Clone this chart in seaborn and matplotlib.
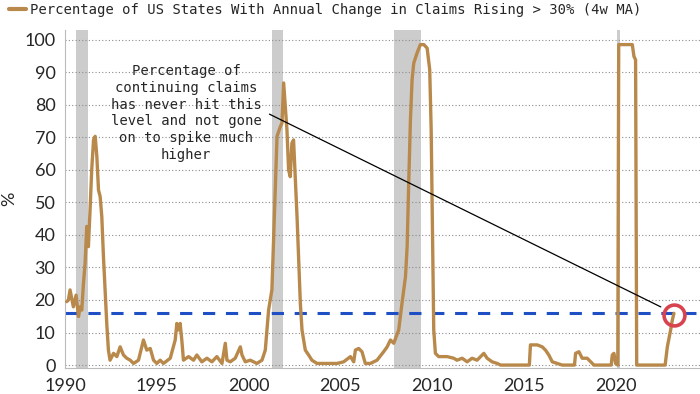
import pandas as pd
import matplotlib.pyplot as plt
import seaborn as sn

# Series (decimal year, % of states)
years = [1990.09, 1990.18, 1990.27, 1990.45, 1990.60, 1990.73, 1990.82, 1990.91, 1991.00, 1991.09,
         1991.18, 1991.27, 1991.36, 1991.45, 1991.55, 1991.64, 1991.73, 1991.82, 1991.91, 1992.00,
         1992.09, 1992.18, 1992.27, 1992.36, 1992.45, 1992.64, 1992.82, 1993.00, 1993.18, 1993.36,
         1993.55, 1993.73, 1994.00, 1994.27, 1994.45, 1994.64, 1994.82, 1995.00, 1995.18, 1995.36,
         1995.73, 1996.00, 1996.09, 1996.18, 1996.27, 1996.36, 1996.45, 1996.73, 1997.00, 1997.18,
         1997.45, 1997.73, 1998.00, 1998.27, 1998.55, 1998.73, 1998.82, 1999.00, 1999.27, 1999.55,
         1999.64, 1999.82, 2000.09, 2000.45, 2000.73, 2000.91, 2001.09, 2001.27, 2001.45, 2001.55,
         2001.73, 2001.82, 2001.91, 2002.00, 2002.09, 2002.18, 2002.27, 2002.36, 2002.45, 2002.64,
         2002.82, 2002.91, 2003.09, 2003.27, 2003.45, 2003.73, 2004.27, 2004.82, 2005.18, 2005.55,
         2005.73, 2005.82, 2006.00, 2006.18, 2006.36, 2006.64, 2007.00, 2007.36, 2007.55, 2007.73,
         2007.91, 2008.18, 2008.36, 2008.55, 2008.64, 2008.73, 2008.82, 2008.91, 2009.00, 2009.18,
         2009.36, 2009.55, 2009.73, 2009.87, 2009.95, 2010.02, 2010.09, 2010.18, 2010.36, 2010.82,
         2011.18, 2011.36, 2011.64, 2011.91, 2012.18, 2012.45, 2012.82, 2013.00, 2013.27, 2013.55,
         2013.73, 2014.64, 2015.30, 2015.36, 2015.73, 2016.00, 2016.18, 2016.36, 2016.55, 2016.82,
         2017.09, 2017.76, 2017.82, 2018.00, 2018.18, 2018.45, 2018.73, 2018.82, 2019.76, 2019.82,
         2019.91, 2020.00, 2020.12, 2020.17, 2020.91, 2021.00, 2021.09, 2021.15, 2022.70, 2022.82,
         2023.00, 2023.09, 2023.18]
pct = [19.5, 20.0, 23.1, 17.9, 21.5, 14.9, 17.9, 16.9, 25.1, 31.3,
       42.6, 36.4, 47.7, 60.0, 69.2, 70.3, 64.1, 53.8, 51.8, 45.6,
       33.3, 23.1, 12.8, 4.6, 1.5, 3.6, 2.6, 5.6, 3.1, 2.1,
       1.5, 0.5, 1.5, 7.7, 4.6, 5.1, 1.5, 0.5, 1.5, 0.5,
       2.1, 7.7, 12.8, 10.8, 12.8, 7.7, 1.5, 2.6, 1.5, 3.1,
       1.0, 2.1, 1.0, 2.6, 0.5, 6.7, 1.5, 1.0, 2.1, 5.6,
       3.1, 1.0, 1.5, 0.5, 1.5, 4.6, 16.9, 23.1, 53.8, 70.3,
       73.3, 74.4, 86.7, 79.5, 72.3, 60.0, 57.9, 68.2, 69.2, 45.6,
       19.0, 10.8, 4.6, 3.1, 1.5, 0.5, 0.5, 0.5, 1.0, 2.6,
       1.0, 4.6, 5.1, 4.1, 0.5, 0.5, 1.5, 4.1, 5.6, 7.7,
       6.7, 10.8, 19.0, 27.2, 36.4, 56.9, 75.4, 87.7, 92.8, 95.9,
       98.5, 98.5, 97.4, 90.8, 72.3, 41.5, 10.8, 3.6, 2.6, 2.6,
       2.1, 1.5, 2.1, 1.0, 2.1, 1.5, 3.6, 2.1, 1.0, 0.5,
       0.0, 0.0, 0.0, 6.2, 6.2, 5.6, 4.6, 3.1, 1.0, 0.5,
       0.0, 0.0, 3.6, 4.1, 2.1, 2.1, 0.5, 0.0, 0.0, 3.1,
       3.6, 0.5, 0.0, 98.5, 98.5, 94.9, 93.8, 0.0, 0.0, 5.6,
       10.8, 13.8, 15.9]

recessions = [(1990.60, 1991.25), (2001.25, 2001.88), (2007.95, 2009.40), (2020.10, 2020.22)]
threshold = 16.1
latest = (2023.17, 15.4)
x_ticks = [1990, 1995, 2000, 2005, 2010, 2015, 2020]
y_ticks = [0, 10, 20, 30, 40, 50, 60, 70, 80, 90, 100]
title = "Percentage of US States With Annual Change in Claims Rising > 30% (4w MA)"
note = "Percentage of\ncontinuing claims\nhas never hit this\nlevel and not gone\non to spike much\nhigher"

df = pd.DataFrame({"year": years, "pct": pct})
line_col = "#b8894a"

sn.set_style("white")
fig = plt.figure(figsize=(7, 3.94), dpi=100)
ax = fig.add_axes([0.093, 0.066, 0.907, 0.858])

for a, b in recessions:
    ax.axvspan(a, b, color="#cccccc", lw=0, zorder=0)

for v in y_ticks:
    ax.axhline(v, color="#8c8c8c", lw=0.8, ls=(0, (1, 2)), zorder=1)

ax.axhline(threshold, color="#1f4fc4", lw=2.2, ls=(0, (4, 3.5)), zorder=2)

sn.lineplot(data=df, x="year", y="pct", ax=ax, color=line_col, lw=2.4, zorder=3,
            label=title, legend=False)

# annotation text + pointer line + circle on latest reading
ax.text(1996.6, 77.5, note, ha="center", va="center", fontsize=10,
        family="DejaVu Sans Mono", linespacing=1.25, zorder=5)
ax.annotate("", xy=(2022.6, 17.5), xytext=(2001.0, 77.5),
            arrowprops=dict(arrowstyle="-", color="black", lw=0.9), zorder=4)
ax.plot([latest[0]], [latest[1]], marker="o", ms=15, mfc="none", mec="#d8434f", mew=2.6, zorder=6)

ax.set_xlim(1990, 2024.6)
ax.set_ylim(-0.9, 103)
ax.set_xticks(x_ticks)
ax.set_yticks(y_ticks)
ax.tick_params(axis="x", length=4, color="#bbbbbb", labelsize=13, pad=3)
ax.tick_params(axis="y", length=0, labelsize=13, pad=7)
for lab in ax.get_xticklabels() + ax.get_yticklabels():
    lab.set_family("Lato")
ax.set_xlabel("")
ax.set_ylabel("%", fontsize=13, family="Lato", labelpad=5)
sn.despine(ax=ax, top=True, right=True)
ax.spines["left"].set_color("#bbbbbb")
ax.spines["bottom"].set_color("#bbbbbb")

# legend line on top of the figure
fig.legend(loc="upper left", bbox_to_anchor=(-0.005, 1.025), frameon=False,
           handlelength=1.2, handletextpad=0.3,
           prop={"family": "DejaVu Sans Mono", "size": 10})
for ln in fig.legends[0].get_lines():
    ln.set_linewidth(3)

fig.savefig("out.png", dpi=100)
